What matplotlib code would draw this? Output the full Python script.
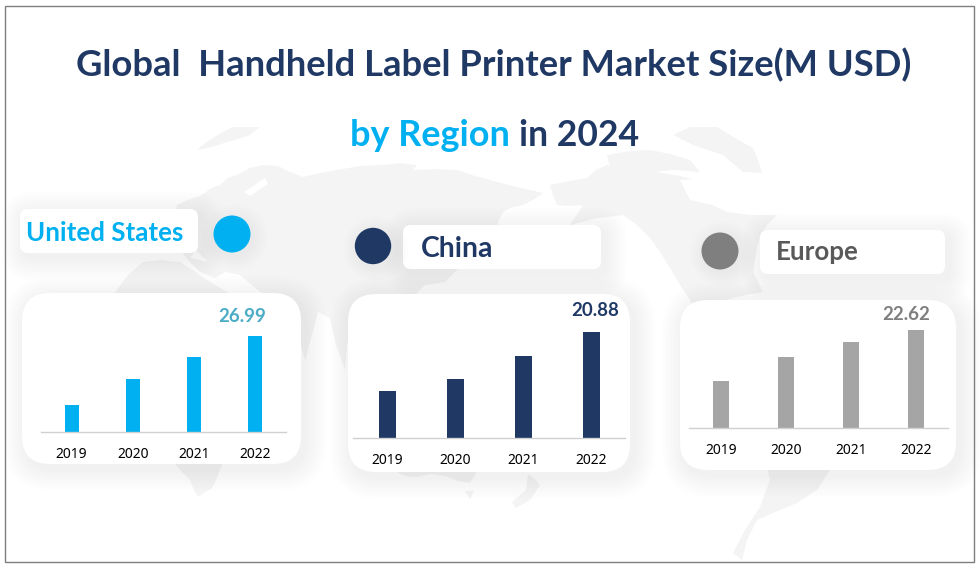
import matplotlib
matplotlib.use('Agg')
import matplotlib.pyplot as plt
from matplotlib.patches import FancyBboxPatch, Polygon, Circle, Rectangle

# DATA
years = ['2019', '2020', '2021', '2022']
usValues = [7.6, 14.9, 21.1, 26.99]
chinaValues = [9.26, 11.6, 16.15, 20.88]
europeValues = [10.85, 16.39, 19.85, 22.62]
regionNames = ['United States', 'China', 'Europe']
titleLine1 = 'Global  Handheld Label Printer Market Size(M USD)'

# COLOURS
navy = '#1F3864'
blue = '#00B0F0'
grey = '#7F7F7F'
lightGrey = '#A5A5A5'
landColor = '#F4F4F4'

W, H = 980, 582
plt.rcParams['font.family'] = ['Lato', 'DejaVu Sans']
fig = plt.figure(figsize=(W / 100, H / 100), dpi=100, facecolor='white')

# canvas in pixel coordinates, y pointing down like the screenshot
canvas = fig.add_axes([0, 0, 1, 1])
canvas.set_xlim(0, W)
canvas.set_ylim(H, 0)
canvas.axis('off')

# WORLD MAP BACKGROUND (rough outlines)
land = [
    # Eurasia
    [(177, 205), (188, 200), (200, 196), (212, 188), (220, 185), (228, 178), (237, 175), (250, 168), (263, 165),
     (278, 166), (290, 172), (303, 177), (320, 173), (337, 170), (360, 166), (383, 165), (400, 163), (417, 165),
     (413, 170), (435, 169), (457, 170), (475, 176), (490, 180), (505, 184), (517, 187), (530, 190), (543, 193),
     (533, 200), (523, 205), (510, 208), (503, 212), (499, 220), (497, 225), (480, 240), (465, 262), (457, 270),
     (445, 282), (425, 285), (410, 300), (395, 320), (365, 325), (352, 318), (347, 345), (345, 370), (336, 345),
     (330, 318), (318, 312), (312, 335), (305, 360), (298, 335), (285, 312), (270, 300), (240, 275), (225, 272),
     (215, 278), (200, 272), (190, 262), (180, 250), (172, 225)],
    # Africa
    [(113, 295), (128, 275), (143, 262), (160, 260), (180, 262), (215, 285), (250, 305), (288, 322), (250, 400),
     (220, 470), (216, 480), (212, 488), (205, 492), (198, 497), (194, 490), (190, 480), (183, 473), (176, 465),
     (165, 400), (125, 360)],
    # Australia
    [(395, 440), (440, 420), (475, 440), (479, 465), (476, 473), (470, 483), (458, 481), (445, 476), (430, 474),
     (417, 477), (405, 476), (398, 473)],
    # Tasmania
    [(465, 491), (474, 491), (470, 499)],
    # New Zealand
    [(528, 474), (536, 480), (540, 485), (530, 500), (516, 508), (512, 502), (526, 490)],
    # North America
    [(550, 185), (565, 182), (587, 178), (596, 170), (607, 165), (630, 168), (657, 172), (680, 176), (703, 182),
     (715, 198), (727, 212), (750, 215), (777, 215), (767, 225), (760, 236), (757, 248), (755, 260), (753, 272),
     (763, 292), (745, 295), (725, 300), (735, 340), (770, 380), (720, 360), (690, 300), (680, 285), (670, 268),
     (660, 252), (650, 238), (637, 225), (623, 215), (597, 218), (570, 225), (583, 205), (568, 206), (557, 205),
     (553, 195)],
    # Greenland
    [(673, 135), (690, 127), (717, 127), (735, 138), (753, 148), (758, 160), (762, 173), (743, 172), (723, 155),
     (693, 145)],
    # Arctic islands
    [(607, 155), (630, 151), (650, 150), (670, 154), (690, 160), (700, 172), (675, 170), (650, 172), (610, 168)],
    # South America
    [(760, 380), (815, 400), (850, 440), (830, 470), (817, 490), (797, 503), (773, 513), (757, 520), (747, 540),
     (742, 560), (733, 553), (745, 530), (760, 507), (770, 480), (755, 420)],
    # northern islands
    [(197, 150), (205, 143), (213, 138), (223, 132), (233, 127), (260, 127), (250, 135), (238, 139), (227, 142),
     (212, 147)],
]
for outline in land:
    canvas.add_patch(Polygon(outline, closed=True, fc=landColor, ec='none', zorder=1))
# Hudson Bay and the Baltic are cut out of the land
water = [[(680, 180), (710, 178), (722, 200), (727, 212), (712, 205), (690, 200)],
         [(244, 192), (265, 178), (268, 184), (250, 196)],
         [(196, 250), (208, 262), (190, 258)]]
for outline in water:
    canvas.add_patch(Polygon(outline, closed=True, fc='white', ec='none', zorder=1.1))


def drawBox(x0, y0, x1, y1, radius):
    # soft shadow is a stack of growing transparent boxes, then the white box on top
    for i in range(14, 0, -1):
        canvas.add_patch(FancyBboxPatch((x0 + 4 + radius, y0 + 5 + radius), x1 - x0 - 2 * radius,
                                        y1 - y0 - 2 * radius, boxstyle='round,pad=%f,rounding_size=%f' % (radius + i * 1.6, radius + i * 1.6),
                                        fc='black', ec='none', alpha=0.0045, zorder=2))
    canvas.add_patch(FancyBboxPatch((x0 + radius, y0 + radius), x1 - x0 - 2 * radius, y1 - y0 - 2 * radius,
                                    boxstyle='round,pad=%f,rounding_size=%f' % (radius, radius),
                                    fc='white', ec='none', zorder=3))


def drawDot(x, y, r, color):
    for i in range(10, 0, -1):
        canvas.add_patch(Circle((x + 3, y + 3), r + i * 1.5, fc='black', ec='none', alpha=0.005, zorder=3))
    canvas.add_patch(Circle((x, y), r, fc=color, ec='none', zorder=4))


# TITLE
canvas.text(493.5, 65, titleLine1, color=navy, fontsize=26.2, fontweight='bold', ha='center', va='center', zorder=6)
canvas.text(350, 135, 'by Region', color=blue, fontsize=25.9, fontweight='bold', ha='left', va='center', zorder=6)
canvas.text(519, 135, 'in 2024', color=navy, fontsize=25.6, fontweight='bold', ha='left', va='center', zorder=6)

# LABEL BOXES AND DOTS
drawBox(20, 209, 198, 253, 8)
drawBox(403, 225, 601, 269, 8)
drawBox(760, 230, 945, 274, 8)
drawDot(232, 234, 18.5, blue)
drawDot(373, 246, 18.2, navy)
drawDot(720, 251, 18.5, grey)
canvas.text(26, 233, regionNames[0], color=blue, fontsize=18.6, fontweight='bold', va='center', zorder=6)
canvas.text(421, 249, regionNames[1], color=navy, fontsize=20.4, fontweight='bold', va='center', zorder=6)
canvas.text(776, 252, regionNames[2], color='#595959', fontsize=18.6, fontweight='bold', va='center', zorder=6)

# CARDS
drawBox(22, 293, 301, 464, 28)
drawBox(348, 294, 630, 472, 28)
drawBox(680, 300, 956, 470, 28)

# value labels
canvas.text(242, 316, '26.99', color='#4BACC6', fontsize=13.4, fontweight='bold', ha='center', va='center', zorder=6)
canvas.text(595, 310, '20.88', color=navy, fontsize=13.4, fontweight='bold', ha='center', va='center', zorder=6)
canvas.text(906, 315, '22.62', color=grey, fontsize=13.4, fontweight='bold', ha='center', va='center', zorder=6)


def drawBars(left, right, top, base, values, yMax, color, barWidth):
    ax = fig.add_axes([left / W, 1 - base / H, (right - left) / W, (base - top) / H], facecolor='none', zorder=5)
    ax.bar(range(len(years)), values, width=barWidth, color=color)
    ax.set_xlim(-0.5, 3.5)
    ax.set_ylim(0, yMax)
    ax.set_xticks(range(len(years)))
    ax.set_xticklabels(years, fontfamily=['Noto Sans', 'DejaVu Sans'], fontsize=10, color='black')
    ax.tick_params(axis='x', length=0, pad=10.7)
    ax.set_yticks([])
    for side in ['top', 'right', 'left']:
        ax.spines[side].set_visible(False)
    ax.spines['bottom'].set_color('#D0D0D0')
    ax.spines['bottom'].set_linewidth(1)
    return ax


drawBars(41, 286, 300, 432, usValues, 37.1, blue, 0.23)
drawBars(353, 625, 300, 438, chinaValues, 27.18, navy, 0.25)
drawBars(689, 948, 300, 428, europeValues, 29.55, lightGrey, 0.245)

# FRAME
canvas.add_patch(Rectangle((4.5, 5.5), 969, 556, fc='none', ec=grey, lw=1, zorder=7))
canvas.add_patch(Rectangle((0, 562), W, 20, fc='white', ec='none', zorder=6))

fig.savefig('out.png', dpi=100)
